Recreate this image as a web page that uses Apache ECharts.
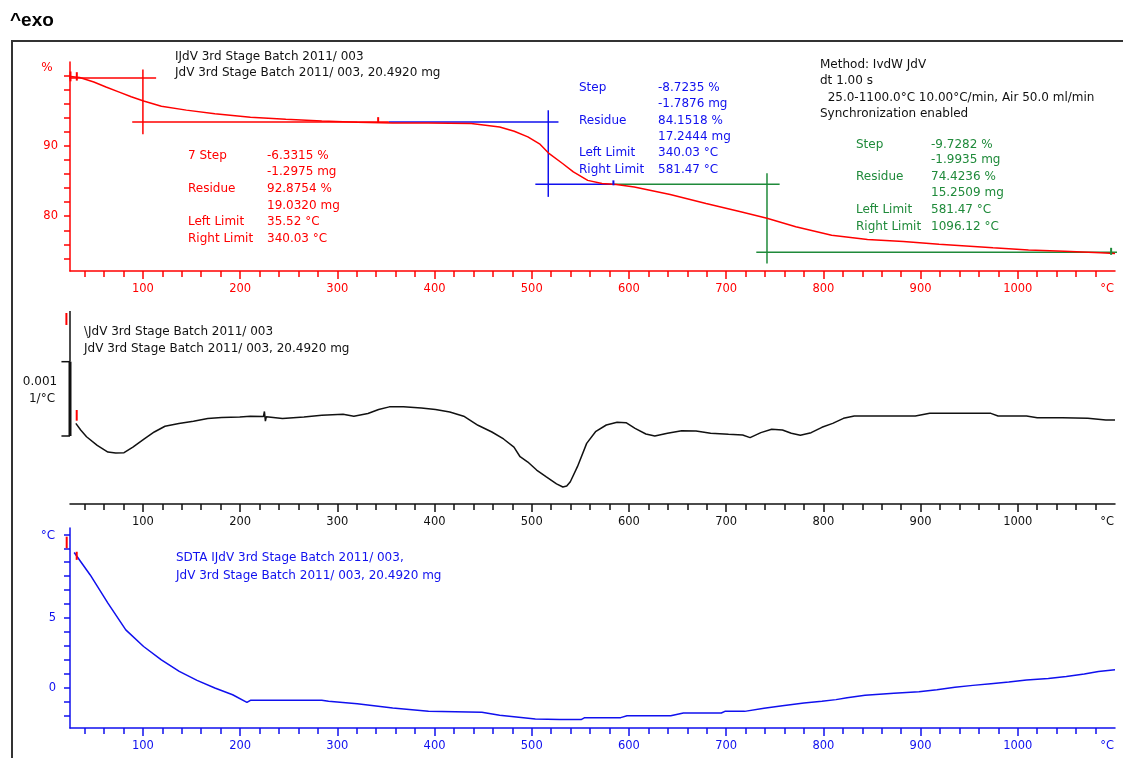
<!DOCTYPE html>
<html><head><meta charset="utf-8">
<script src="https://cdn.jsdelivr.net/npm/echarts@6/dist/echarts.min.js"></script>
<style>html,body{margin:0;padding:0;background:#fff}#c{width:1123px;height:758px}</style>
</head><body><div id="c"></div>
<script>
// ---------- DATA ----------
// TGA (top panel): temperature (°C) and mass (%)
const tgaT = [25.6,35,49.5,62,75,88,100.7,119,144.7,174,210.6,247,284,320.5,357,393.8,437.7,467,482,496,508,518,531.7,542.8,557.6,572.3,587,605.5,642.4,679.3,716,742,771.6,808.5,845.4,882.3,919,974.5,1011,1048,1085,1100];
const tgaP = [99.9,99.75,99.1,98.4,97.7,97.0,96.4,95.65,95.1,94.6,94.1,93.8,93.55,93.37,93.27,93.27,93.19,92.7,92.1,91.3,90.3,88.9,87.5,86.3,85.1,84.65,84.5,84.17,83.1,81.8,80.6,79.7,78.5,77.3,76.7,76.4,76.0,75.5,75.2,75.0,74.8,74.7];
// DTG (middle panel): temperature (°C) and derivative (×0.001 1/°C, relative)
const dtgT = [31,36,42,53,64,72,80.6,89.7,100.7,111.7,122.7,137,152,166.7,181,199.6,210.6,224,225,226,227,243.6,265.6,284,305.9,317,331.5,342.5,353.5,368,386.4,401,415.7,430,444.7,459,471,481.7,488,496,505,515,525.5,532,536,539.7,547,556.5,565.6,576.7,587.8,597,606.3,617.4,626.6,639.6,654.3,669,684,702.4,717,724.6,735.7,746.8,757.9,767,776.3,787.4,798.5,809.6,820.7,831.8,861.4,894.6,909.4,935.3,972.3,979.7,1009,1020,1046,1072,1090.6,1100];
const dtgV = [0.17,0.08,-0.01,-0.126,-0.216,-0.23,-0.225,-0.149,-0.045,0.054,0.131,0.167,0.198,0.234,0.248,0.257,0.266,0.262,0.33,0.2,0.26,0.234,0.257,0.279,0.293,0.266,0.302,0.356,0.392,0.392,0.378,0.356,0.324,0.266,0.144,0.054,-0.04,-0.149,-0.279,-0.35,-0.458,-0.55,-0.644,-0.686,-0.673,-0.615,-0.413,-0.099,0.058,0.148,0.184,0.179,0.103,0.027,0.0,0.036,0.072,0.067,0.036,0.022,0.013,-0.022,0.045,0.09,0.081,0.036,0.009,0.045,0.117,0.17,0.238,0.269,0.269,0.269,0.305,0.305,0.305,0.269,0.269,0.247,0.247,0.238,0.215,0.215];
// SDTA (bottom panel): temperature (°C) and temperature difference (°C)
const sdtaT = [29.3,45.8,64,82.4,100.7,119,137.4,155.7,174,192.3,207,210.6,284,291,320.5,357,393.8,448.7,467,503.7,528.6,550.8,554.5,591.5,598,643,656,695,698.7,719,739,757.9,780,798.5,813,824.4,842.9,872.5,898.3,916.8,935.3,953.8,972.3,990.7,1009,1031.4,1049.9,1068.4,1083,1100];
const sdtaV = [9.7,8.09,6.07,4.16,2.97,2.02,1.19,0.55,0.0,-0.48,-1.03,-0.88,-0.88,-0.95,-1.12,-1.43,-1.67,-1.74,-1.95,-2.22,-2.26,-2.26,-2.12,-2.12,-1.98,-1.98,-1.79,-1.79,-1.67,-1.67,-1.45,-1.26,-1.07,-0.95,-0.83,-0.69,-0.52,-0.38,-0.26,-0.12,0.05,0.19,0.31,0.43,0.57,0.69,0.83,1.0,1.19,1.31];
// Step evaluation construction lines (°C, %)
const step1Red = [[[16.5,99.67],[113.6,99.67]],[[100,100.87],[100,91.66]],[[89,93.41],[353,93.41]]];
const step2Blue = [[[353,93.41],[527.5,93.41]],[[517,95.08],[517,82.75]],[[503.7,84.55],[582,84.55]]];
const step3Green = [[[582,84.55],[755,84.55]],[[742,86.1],[742,73.27]],[[731,74.88],[1107,74.88]]];
// DTG scale bar (°C, ×0.001 1/°C) and small limit markers: [grid, color, width, p1, p2]
const scaleBarThin = [[25,1.682],[25,1]];
const scaleBarThick = [[25,1],[25,0]];
const scaleBarTicks = [[[16.2,1],[25,1]],[[16.2,0],[25,0]]];
const limitMarks = [
  [0,'red',[25.5,100.6],[25.5,99.2]],[0,'red',[32,100.5],[32,99.3]],[0,'red',[342,94.1],[342,93.4]],
  [0,'blue',[584,85.1],[584,84.4]],[0,'green',[1096,75.5],[1096,74.5]],
  [1,'red',[21.3,1.655],[21.3,1.494]],[1,'red',[31.9,0.35],[31.9,0.206]],
  [2,'red',[21.6,10.83],[21.6,10.0]],[2,'red',[31.9,9.75],[31.9,9.17]]
];
// Tick labels
const xLabelVals = [100,200,300,400,500,600,700,800,900,1000];
const topYLabels = [80,90];
const bottomYLabels = [0,5];
// Annotation texts
const sampleLines = ['IJdV 3rd Stage Batch 2011/ 003','JdV 3rd Stage Batch 2011/ 003, 20.4920 mg'];
const dtgLines = ['\\JdV 3rd Stage Batch 2011/ 003','JdV 3rd Stage Batch 2011/ 003, 20.4920 mg'];
const sdtaLines = ['SDTA IJdV 3rd Stage Batch 2011/ 003,','JdV 3rd Stage Batch 2011/ 003, 20.4920 mg'];
const methodLines = ['Method: IvdW JdV','dt 1.00 s','  25.0-1100.0°C 10.00°C/min, Air 50.0 ml/min','Synchronization enabled'];
const step1Labels = ['7 Step','','Residue','','Left Limit','Right Limit'];
const step1Values = ['-6.3315 %','-1.2975 mg','92.8754 %','19.0320 mg','35.52 °C','340.03 °C'];
const step2Labels = ['Step','','Residue','','Left Limit','Right Limit'];
const step2Values = ['-8.7235 %','-1.7876 mg','84.1518 %','17.2444 mg','340.03 °C','581.47 °C'];
const step3Labels = ['Step','','Residue','','Left Limit','Right Limit'];
const step3Values = ['-9.7282 %','-1.9935 mg','74.4236 %','15.2509 mg','581.47 °C','1096.12 °C'];

// ---------- CHART ----------
const FF = 'DejaVu Sans';
const COL = {red:'#ff0000', blue:'#1010ee', green:'#1f8a3a', black:'#111'};
const RED = COL.red, BLUE = COL.blue, GREEN = COL.green, BLACK = COL.black;
const minorX = []; for (let t = 40; t <= 1080; t += 20) minorX.push(t);
const zip = (a, b) => a.map((v, i) => [v, b[i]]);

function xAxes(gi, color) {
  return [
    { type:'value', gridIndex:gi, min:25, max:1100, position:'bottom',
      axisLine:{show:true,onZero:false,lineStyle:{color,width:1.5}},
      axisTick:{show:true,customValues:minorX,length:6,lineStyle:{color,width:1.5}},
      axisLabel:{show:true,customValues:xLabelVals.concat([1092]),formatter:v=>v>1050?'°C':String(v),color,fontSize:11.5,margin:12,fontFamily:FF},
      splitLine:{show:false}},
    { type:'value', gridIndex:gi, min:25, max:1100, position:'bottom',
      axisLine:{show:false,onZero:false},
      axisTick:{show:true,customValues:xLabelVals,length:8,lineStyle:{color,width:1.5}},
      axisLabel:{show:false}, splitLine:{show:false}}
  ];
}
const yTop = []; for (let v = 74; v <= 100; v += 2) yTop.push(v);
const yBot = []; for (let v = -2; v <= 11; v += 1) yBot.push(v);

function seg(data, color, gi, w) {
  return data.map(d => ({type:'line', xAxisIndex:gi*2, yAxisIndex:gi, data:d, showSymbol:false, clip:false,
    lineStyle:{color, width:w||1.5}, silent:true, animation:false, z:3}));
}

const series = [
  {type:'line', xAxisIndex:0, yAxisIndex:0, data:zip(tgaT,tgaP), showSymbol:false, lineStyle:{color:RED,width:1.5}, z:4},
  {type:'line', xAxisIndex:2, yAxisIndex:1, data:zip(dtgT,dtgV), showSymbol:false, lineStyle:{color:BLACK,width:1.5}},
  {type:'line', xAxisIndex:4, yAxisIndex:2, data:zip(sdtaT,sdtaV), showSymbol:false, lineStyle:{color:BLUE,width:1.5}},
  ...seg(step1Red, RED, 0), ...seg(step2Blue, BLUE, 0), ...seg(step3Green, GREEN, 0)
];

const FONT = '12px "DejaVu Sans"';
function txt(x, y, t, color, align) {
  return {type:'text', x, y, style:{text:t, fill:color, font:FONT, textAlign:align||'left', textVerticalAlign:'middle'}, silent:true, z:10};
}
const graphics = [];
graphics.push({type:'rect', shape:{x:12,y:41,width:1130,height:740}, style:{fill:null, stroke:'#333', lineWidth:2}, z:-1});
graphics.push({type:'text', x:10, y:21, style:{text:'^exo', fill:'#000', font:'bold 19px "Liberation Sans"', textVerticalAlign:'middle'}});
sampleLines.forEach((t,i)=>graphics.push(txt(175, 57+i*16, t, BLACK)));
dtgLines.forEach((t,i)=>graphics.push(txt(84, 332+i*17, t, BLACK)));
sdtaLines.forEach((t,i)=>graphics.push(txt(176, 558+i*18, t, BLUE)));
methodLines.forEach((t,i)=>graphics.push(txt(820, 65+i*16.3, t, BLACK)));
const rowsY1 = [156,172,189,206,222,239];
step1Labels.forEach((t,i)=>graphics.push(txt(188, rowsY1[i], t, RED)));
step1Values.forEach((t,i)=>graphics.push(txt(267, rowsY1[i], t, RED)));
const rowsY2 = [88,104,121,137,153,170];
step2Labels.forEach((t,i)=>graphics.push(txt(579, rowsY2[i], t, BLUE)));
step2Values.forEach((t,i)=>graphics.push(txt(658, rowsY2[i], t, BLUE)));
const rowsY3 = [145,160,177,193,210,227];
step3Labels.forEach((t,i)=>graphics.push(txt(856, rowsY3[i], t, GREEN)));
step3Values.forEach((t,i)=>graphics.push(txt(931, rowsY3[i], t, GREEN)));
graphics.push(txt(47, 68, '%', RED, 'center'));
graphics.push(txt(48, 536, '°C', BLUE, 'center'));
graphics.push(txt(40, 382, '0.001', BLACK, 'center'));
graphics.push(txt(42, 399, '1/°C', BLACK, 'center'));

const option = {
  animation:false,
  backgroundColor:'#fff',
  grid:[
    {left:70, width:1045, top:62, height:209},
    {left:70, width:1045, top:311, height:193},
    {left:70, width:1045, top:528, height:200}
  ],
  xAxis:[...xAxes(0,RED), ...xAxes(1,BLACK), ...xAxes(2,BLUE)],
  yAxis:[
    {type:'value', gridIndex:0, min:72.2, max:101.95,
     axisLine:{show:true,onZero:false,lineStyle:{color:RED,width:1.5}},
     axisTick:{show:true,customValues:yTop,length:6,lineStyle:{color:RED,width:1.5}},
     axisLabel:{show:true,customValues:topYLabels,color:RED,fontSize:11.5,margin:12,fontFamily:FF},
     splitLine:{show:false}},
    {type:'value', gridIndex:1, min:-0.915, max:1.682,
     axisLine:{show:false}, axisTick:{show:false}, axisLabel:{show:false}, splitLine:{show:false}},
    {type:'value', gridIndex:2, min:-2.86, max:11.45,
     axisLine:{show:true,onZero:false,lineStyle:{color:BLUE,width:1.5}},
     axisTick:{show:true,customValues:yBot,length:6,lineStyle:{color:BLUE,width:1.5}},
     axisLabel:{show:true,customValues:bottomYLabels,color:BLUE,fontSize:11.5,margin:14,fontFamily:FF},
     splitLine:{show:false}}
  ],
  series,
  graphic:graphics
};
const chart = echarts.init(document.getElementById('c'), null, {renderer:'canvas'});
chart.setOption(option);

// Scale bar and limit markers, positioned through the chart's own scales
function px(gi, p) { return chart.convertToPixel({xAxisIndex:gi*2, yAxisIndex:gi}, p); }
function lineEl(gi, a, b, color, w) {
  const p1 = px(gi, a), p2 = px(gi, b);
  return {type:'line', shape:{x1:p1[0],y1:p1[1],x2:p2[0],y2:p2[1]}, style:{stroke:color, lineWidth:w}, silent:true, z:12};
}
const extra = [];
extra.push(lineEl(1, scaleBarThin[0], scaleBarThin[1], BLACK, 1.5));
extra.push(lineEl(1, scaleBarThick[0], scaleBarThick[1], BLACK, 3));
scaleBarTicks.forEach(s => extra.push(lineEl(1, s[0], s[1], BLACK, 1.5)));
limitMarks.forEach(m => extra.push(lineEl(m[0], m[2], m[3], COL[m[1]], 2)));
chart.setOption({graphic: graphics.concat(extra)});
</script></body></html>
